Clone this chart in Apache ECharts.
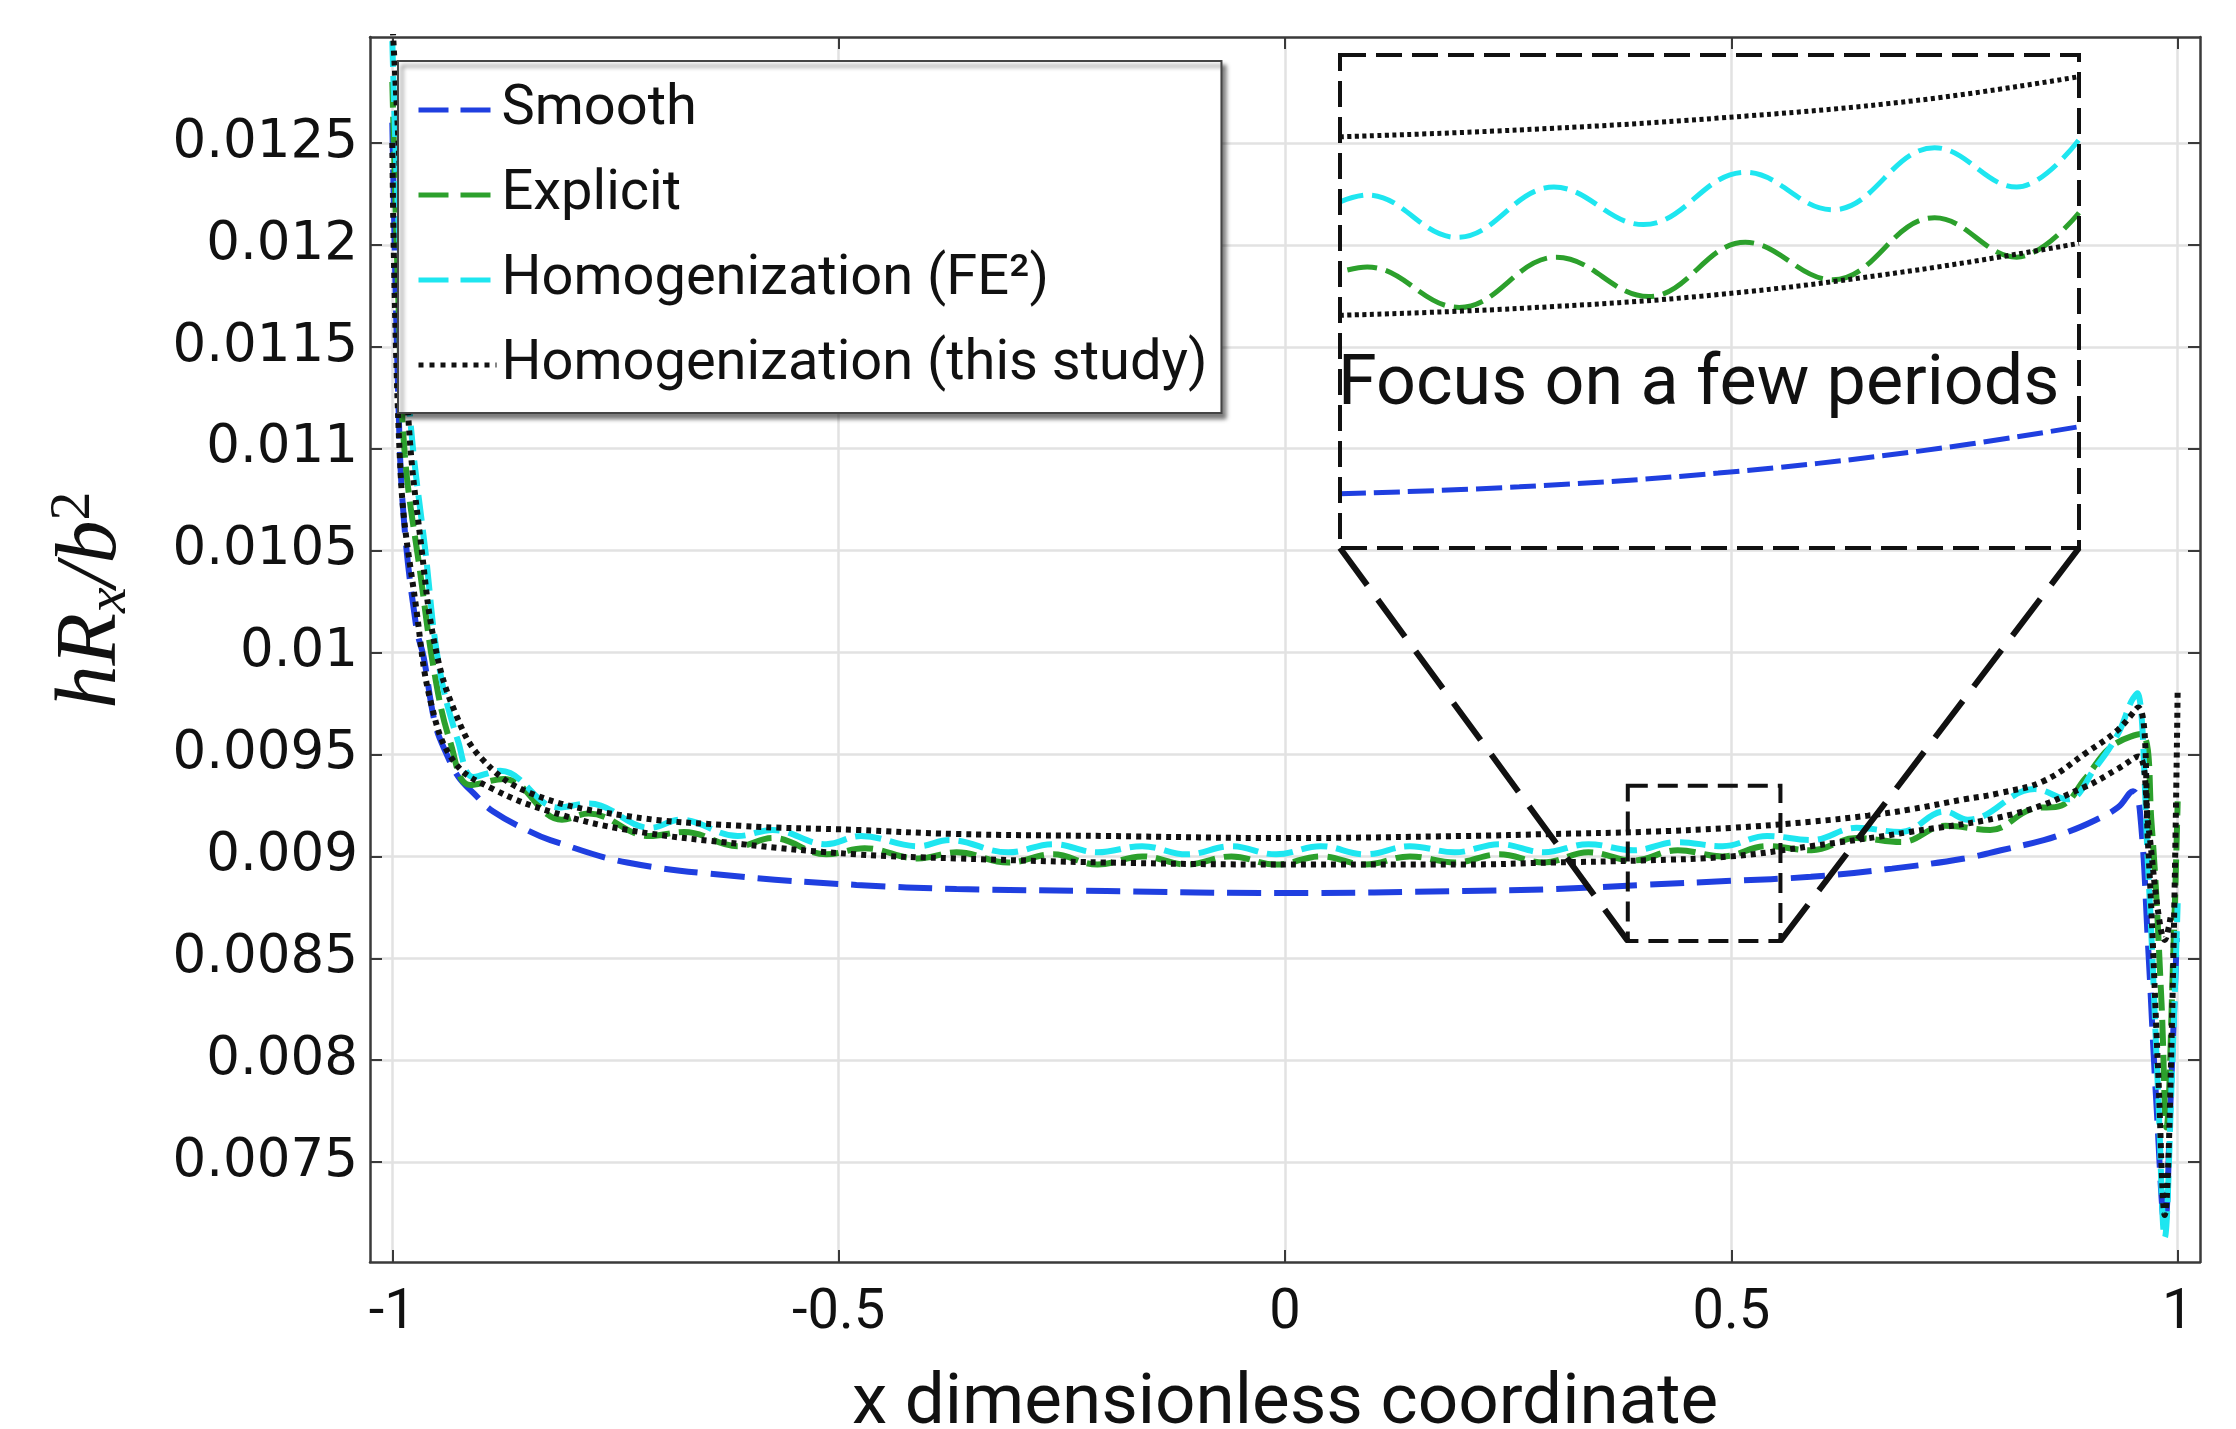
<!DOCTYPE html>
<html lang="en" style="height: 100%">
<head>
  <meta charset="utf-8">
</head>
<body style="height: 100%; margin: 0; background: #fff">
  <div id="container" style="width: 2236px; height: 1429px"></div>

  <script type="text/javascript" src="https://cdn.jsdelivr.net/npm/echarts@6/dist/echarts.min.js"></script>

  <script type="text/javascript">
    // [x, hRx/b^2]
    const smooth = [
      [-1.0, 0.0126], [-0.993, 0.0112], [-0.987, 0.01065], [-0.973, 0.01012], [-0.965, 0.00998],
      [-0.952, 0.00965], [-0.939, 0.0095], [-0.926, 0.00939], [-0.909, 0.00931], [-0.887, 0.00922],
      [-0.845, 0.00912], [-0.823, 0.00908], [-0.737, 0.00897], [-0.608, 0.0089], [-0.48, 0.00886],
      [-0.368, 0.00884], [-0.2, 0.00883], [0, 0.00882], [0.2, 0.00883], [0.303, 0.00884],
      [0.4, 0.00886], [0.5, 0.00888], [0.589, 0.0089], [0.68, 0.00894], [0.761, 0.00899],
      [0.802, 0.00903], [0.85, 0.00908], [0.877, 0.00912], [0.904, 0.00917], [0.933, 0.00924],
      [0.95, 0.00932], [0.9575, 0.00923], [0.967, 0.00855], [0.976, 0.0078], [0.9856, 0.00719],
      [0.992, 0.0078], [0.999, 0.0086]
    ];
    const explicit = [
      [-1.0, 0.0128], [-0.993, 0.0117], [-0.986, 0.01097], [-0.969, 0.0104], [-0.952, 0.00988],
      [-0.935, 0.00956], [-0.913, 0.00935], [-0.875, 0.00938], [-0.81, 0.00918], [-0.78, 0.00921],
      [-0.712, 0.0091], [-0.673, 0.00912], [-0.613, 0.00905], [-0.574, 0.00909], [-0.514, 0.00901],
      [-0.471, 0.00904], [-0.411, 0.00899], [-0.368, 0.00902], [-0.31, 0.00897], [-0.26, 0.00901],
      [-0.21, 0.00896], [-0.16, 0.009], [-0.11, 0.00896], [-0.06, 0.009], [-0.01, 0.00896],
      [0.04, 0.009], [0.09, 0.00896], [0.14, 0.009], [0.19, 0.00897], [0.24, 0.00901],
      [0.29, 0.00897], [0.34, 0.00902], [0.39, 0.00898], [0.44, 0.00903], [0.49, 0.009],
      [0.54, 0.00905], [0.59, 0.00903], [0.64, 0.00909], [0.69, 0.00907], [0.74, 0.00915],
      [0.79, 0.00913], [0.835, 0.00923], [0.87, 0.00925], [0.896, 0.00938], [0.926, 0.00954],
      [0.959, 0.0096], [0.9706, 0.00917], [0.9818, 0.00829], [0.9874, 0.00767], [0.995, 0.00851],
      [1.0, 0.00927]
    ];
    const fe2 = [
      [-1.0, 0.013], [-0.993, 0.0121], [-0.98, 0.01115], [-0.963, 0.0105], [-0.9475, 0.00993],
      [-0.926, 0.00956], [-0.909, 0.00939], [-0.879, 0.00942], [-0.814, 0.00924], [-0.78, 0.00926],
      [-0.711, 0.00914], [-0.677, 0.00918], [-0.613, 0.0091], [-0.574, 0.00913], [-0.514, 0.00906],
      [-0.475, 0.0091], [-0.411, 0.00905], [-0.376, 0.00908], [-0.31, 0.00902], [-0.26, 0.00906],
      [-0.21, 0.00902], [-0.16, 0.00905], [-0.11, 0.00901], [-0.06, 0.00905], [-0.01, 0.00901],
      [0.04, 0.00905], [0.09, 0.00901], [0.14, 0.00905], [0.19, 0.00902], [0.24, 0.00906],
      [0.29, 0.00902], [0.34, 0.00906], [0.39, 0.00903], [0.44, 0.00907], [0.49, 0.00905],
      [0.54, 0.0091], [0.59, 0.00908], [0.64, 0.00914], [0.69, 0.00912], [0.739, 0.00922],
      [0.765, 0.00918], [0.84, 0.00933], [0.877, 0.00928], [0.907, 0.00943], [0.933, 0.0096],
      [0.948, 0.00976], [0.9547, 0.0098], [0.9669, 0.00894], [0.978, 0.00785], [0.9855, 0.00713],
      [0.9929, 0.00785], [1.0, 0.00877]
    ];
    const studyUpper = [
      [-1.0, 0.0131], [-0.99, 0.0122], [-0.982, 0.01115], [-0.967, 0.0105], [-0.952, 0.01003],
      [-0.93, 0.00971], [-0.9, 0.00948], [-0.845, 0.00931], [-0.74, 0.0092], [-0.61, 0.00915],
      [-0.48, 0.00913], [-0.37, 0.00911], [-0.2, 0.0091], [0, 0.00909], [0.2, 0.0091],
      [0.3, 0.00911], [0.4, 0.00912], [0.5, 0.00914], [0.589, 0.00917], [0.653, 0.0092],
      [0.7, 0.00923], [0.761, 0.00928], [0.8, 0.00931], [0.85, 0.00937], [0.898, 0.00951],
      [0.933, 0.00962], [0.9557, 0.00973], [0.9669, 0.00905], [0.978, 0.00796], [0.9855, 0.00724],
      [0.993, 0.00807], [1.0, 0.00982]
    ];
    const studyLower = [
      [-1.0, 0.0125], [-0.9906, 0.01087], [-0.973, 0.01021], [-0.956, 0.00974], [-0.93, 0.00946],
      [-0.887, 0.00933], [-0.823, 0.00922], [-0.737, 0.00913], [-0.608, 0.00906], [-0.48, 0.00901],
      [-0.368, 0.00899], [-0.2, 0.00897], [0, 0.00896], [0.2, 0.00896], [0.3, 0.00897],
      [0.4, 0.00898], [0.5, 0.009], [0.589, 0.00905], [0.7, 0.00912], [0.818, 0.00921],
      [0.8957, 0.00934], [0.933, 0.00943], [0.9557, 0.00949], [0.9669, 0.00916], [0.978, 0.00873],
      [0.9855, 0.00859], [0.992, 0.0087]
    ];

    // inset: the same curves around x = 0.38 .. 0.56
    const insetSmooth = [[0.384, 0.008855], [0.4255, 0.008862], [0.4715, 0.008876], [0.5176, 0.008898], [0.555, 0.008923]];
    const insetExplicit = [
      [0.3857, 0.009082], [0.3903, 0.009085], [0.4116, 0.009044], [0.4341, 0.009095], [0.4554, 0.009055],
      [0.4778, 0.00911], [0.498, 0.009072], [0.5216, 0.009135], [0.5406, 0.009095], [0.555, 0.00914]
    ];
    const insetFe2 = [
      [0.384, 0.009151], [0.3903, 0.009158], [0.4111, 0.009115], [0.4335, 0.009166], [0.4542, 0.009128],
      [0.4778, 0.009181], [0.498, 0.009143], [0.5216, 0.009206], [0.5406, 0.009166], [0.555, 0.009214]
    ];
    const insetUpper = [[0.384, 0.009217], [0.4255, 0.009224], [0.4715, 0.009236], [0.5176, 0.009254], [0.555, 0.009278]];
    const insetLower = [[0.384, 0.009036], [0.4255, 0.009043], [0.4715, 0.009057], [0.5176, 0.009082], [0.555, 0.009109]];

    const xTicks = [-1, -0.5, 0, 0.5, 1];
    const yTicks = [0.0075, 0.008, 0.0085, 0.009, 0.0095, 0.01, 0.0105, 0.011, 0.0115, 0.012, 0.0125];
    const names = ['Smooth', 'Explicit', 'Homogenization (FE²)', 'Homogenization (this study)'];

    // zoom window in data units, and the inset axes
    const zoomX = [0.384, 0.555];
    const zoomY = [0.008585, 0.009347];
    const insetX = [0.384, 0.555];
    const insetY = [0.0088, 0.0093];

    const BLUE = '#1f3fe0', GREEN = '#2ca02c', CYAN = '#1ee6f0', BLACK = '#111';

    var dom = document.getElementById('container');
    var myChart = echarts.init(dom, null, { renderer: 'canvas' });

    function line(name, data, color, width, dash, inset) {
      return {
        name: name,
        type: 'line',
        data: data,
        symbol: 'none',
        smooth: 0.4,
        xAxisIndex: inset ? 2 : 0,
        yAxisIndex: inset ? 2 : 0,
        lineStyle: { color: color, width: width, type: dash },
        itemStyle: { color: color },
        silent: true
      };
    }

    const frame = { show: true, onZero: false, lineStyle: { color: '#3a3a3a', width: 2.5 } };
    const tick = { show: true, inside: true, length: 12, lineStyle: { color: '#3a3a3a', width: 2 } };
    const grid = { show: true, lineStyle: { color: '#e2e2e2', width: 2.5 } };

    var option = {
      animation: false,
      backgroundColor: '#fff',
      grid: [
        { left: 370, right: 36, top: 37, bottom: 167, containLabel: false, outerBoundsMode: 'none' },
        { left: 1340, top: 55, width: 739, height: 493, containLabel: false, outerBoundsMode: 'none' }
      ],
      legend: {
        data: [
          { name: names[0], lineStyle: { type: [30, 12], width: 5 } },
          { name: names[1], lineStyle: { type: [30, 12], width: 5 } },
          { name: names[2], lineStyle: { type: [30, 12], width: 5 } },
          { name: names[3], lineStyle: { type: [5, 6], width: 5 } }
        ],
        orient: 'vertical',
        left: 398,
        top: 61,
        padding: [19, 14, 18, 18],
        itemWidth: 78,
        itemHeight: 6,
        itemGap: 25,
        itemStyle: { color: 'transparent', borderWidth: 0 },
        backgroundColor: '#fff',
        borderColor: '#444',
        borderWidth: 2,
        shadowColor: 'rgba(0,0,0,0.5)',
        shadowBlur: 4,
        shadowOffsetX: 4,
        shadowOffsetY: 5,
        textStyle: { fontFamily: 'Roboto', fontSize: 56, color: '#111', lineHeight: 60 }
      },
      xAxis: [
        {
          type: 'value', min: -1.025, max: 1.025,
          axisLine: frame,
          axisTick: Object.assign({ customValues: xTicks }, tick),
          splitLine: grid,
          axisLabel: {
            customValues: xTicks, margin: 24,
            fontFamily: 'Roboto', fontSize: 56, color: '#111'
          },
          name: 'x dimensionless coordinate',
          nameLocation: 'middle',
          nameGap: 108,
          nameTextStyle: { fontFamily: 'Roboto', fontSize: 71, color: '#111' }
        },
        {
          type: 'value', position: 'top', min: -1.025, max: 1.025,
          axisLine: frame,
          axisTick: Object.assign({ customValues: xTicks }, tick),
          axisLabel: { show: false },
          splitLine: { show: false }
        },
        { type: 'value', gridIndex: 1, min: insetX[0], max: insetX[1], show: false }
      ],
      yAxis: [
        {
          type: 'value', min: 0.00701, max: 0.01302,
          axisLine: frame,
          axisTick: Object.assign({ customValues: yTicks }, tick),
          splitLine: grid,
          axisLabel: {
            customValues: yTicks, margin: 12,
            fontFamily: 'DejaVu Sans', fontSize: 53, color: '#111',
            formatter: function (v) { return String(parseFloat(v.toFixed(5))); }
          }
        },
        {
          type: 'value', position: 'right', min: 0.00701, max: 0.01302,
          axisLine: frame,
          axisTick: Object.assign({ customValues: yTicks }, tick),
          axisLabel: { show: false },
          splitLine: { show: false }
        },
        { type: 'value', gridIndex: 1, min: insetY[0], max: insetY[1], show: false }
      ],
      series: [
        line(names[0], smooth, BLUE, 6, [34, 13]),
        line(names[1], explicit, GREEN, 6, [26, 9]),
        line(names[2], fe2, CYAN, 6, [26, 9]),
        line(names[3], studyUpper, BLACK, 6, [5, 5]),
        line(names[3], studyLower, BLACK, 6, [5, 5]),
        line(names[0], insetSmooth, BLUE, 5, [26, 8], true),
        line(names[1], insetExplicit, GREEN, 5, [30, 9], true),
        line(names[2], insetFe2, CYAN, 5, [24, 9], true),
        line(names[3], insetUpper, BLACK, 5, [4, 3.5], true),
        line(names[3], insetLower, BLACK, 5, [4, 3.5], true)
      ]
    };

    myChart.setOption(option);

    // zoom window, inset frame and the two leader lines
    const main = { xAxisIndex: 0, yAxisIndex: 0 };
    const ins = { xAxisIndex: 2, yAxisIndex: 2 };
    const zTL = myChart.convertToPixel(main, [zoomX[0], zoomY[1]]);
    const zBR = myChart.convertToPixel(main, [zoomX[1], zoomY[0]]);
    const iBL = myChart.convertToPixel(ins, [insetX[0], insetY[0]]);
    const iTR = myChart.convertToPixel(ins, [insetX[1], insetY[1]]);

    myChart.setOption({
      graphic: [
        {
          type: 'rect', z: 50,
          shape: { x: zTL[0], y: zTL[1], width: zBR[0] - zTL[0], height: zBR[1] - zTL[1] },
          style: { fill: 'none', stroke: BLACK, lineWidth: 4, lineDash: [20, 10] }
        },
        {
          type: 'rect', z: 50,
          shape: { x: iBL[0], y: iTR[1], width: iTR[0] - iBL[0], height: iBL[1] - iTR[1] },
          style: { fill: 'none', stroke: BLACK, lineWidth: 4, lineDash: [26, 10] }
        },
        {
          type: 'line', z: 50,
          shape: { x1: iBL[0], y1: iBL[1], x2: zTL[0], y2: zBR[1] },
          style: { stroke: BLACK, lineWidth: 6, lineDash: [46, 18] }
        },
        {
          type: 'line', z: 50,
          shape: { x1: iTR[0], y1: iBL[1], x2: zBR[0], y2: zBR[1] },
          style: { stroke: BLACK, lineWidth: 6, lineDash: [46, 18] }
        },
        {
          type: 'text', z: 60, x: 1338, y: 386,
          style: {
            text: 'Focus on a few periods', fill: BLACK,
            fontFamily: 'Roboto', fontSize: 70, verticalAlign: 'middle'
          }
        },
        {
          type: 'text', z: 60, x: 92, y: 600, rotation: Math.PI / 2,
          style: {
            text: '{m|hR}{s|x}{m|/b}{p|2}',
            align: 'center', verticalAlign: 'middle', fill: BLACK,
            rich: {
              m: { fontFamily: 'Liberation Serif', fontStyle: 'italic', fontSize: 86, lineHeight: 94 },
              s: { fontFamily: 'Liberation Serif', fontStyle: 'italic', fontSize: 58, lineHeight: 47, verticalAlign: 'bottom' },
              p: { fontFamily: 'Liberation Serif', fontSize: 58, lineHeight: 47, verticalAlign: 'top' }
            }
          }
        }
      ]
    });

    window.addEventListener('resize', myChart.resize);
  </script>
</body>
</html>
